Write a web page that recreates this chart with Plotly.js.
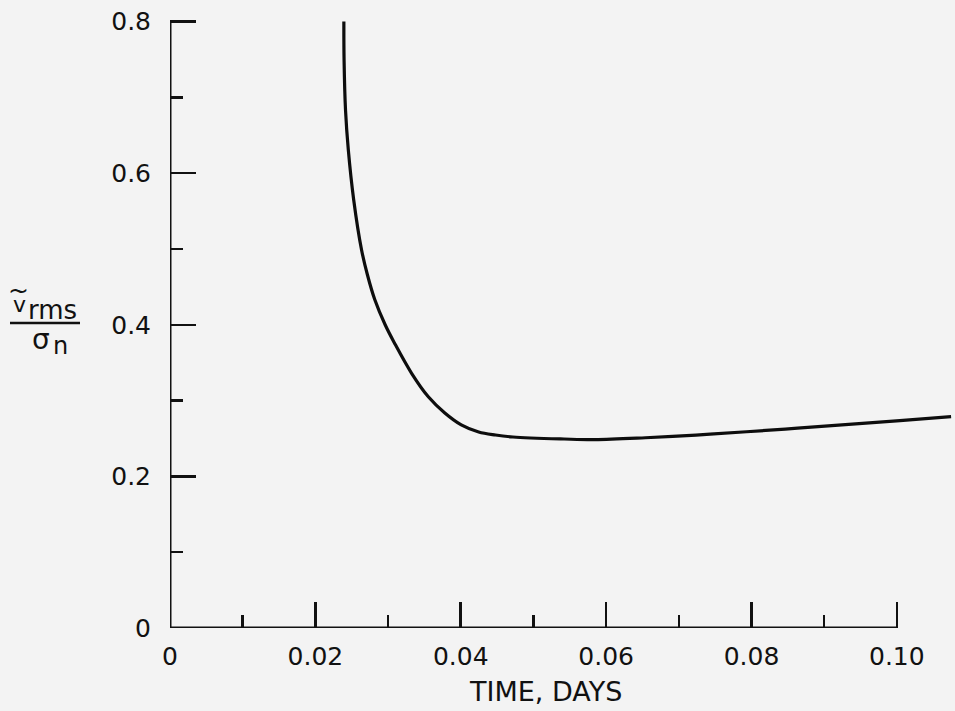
<!DOCTYPE html>
<html>
<head>
<meta charset="utf-8">
<script src="https://cdn.plot.ly/plotly-3.0.1.min.js"></script>
<style>
  html, body { margin: 0; padding: 0; background: #f3f3f3; }
  #chart { width: 955px; height: 711px; }
</style>
</head>
<body>
<div id="chart"></div>
<script>
// Normalised RMS velocity error versus elapsed time
const timeDays = [0.02392, 0.02395, 0.02415, 0.02453, 0.02527, 0.02635, 0.02716, 0.02818,
  0.02960, 0.03088, 0.03324, 0.03554, 0.03777, 0.04007, 0.04247, 0.04479, 0.04718,
  0.05423, 0.05845, 0.06542, 0.07236, 0.07931, 0.08634, 0.09338, 0.10042, 0.10746];
const vRmsRatio = [0.800, 0.749, 0.683, 0.631, 0.565, 0.499, 0.466, 0.433,
  0.400, 0.376, 0.336, 0.305, 0.284, 0.268, 0.2586, 0.2546, 0.2520,
  0.2493, 0.2485, 0.2510, 0.2545, 0.2589, 0.2636, 0.2685, 0.2736, 0.2788];

// Axis ticks
const xMajor = [0, 0.02, 0.04, 0.06, 0.08, 0.10];
const xMajorText = ["0", "0.02", "0.04", "0.06", "0.08", "0.10"];
const xMinor = [0.01, 0.03, 0.05, 0.07, 0.09];
const yMajor = [0, 0.2, 0.4, 0.6, 0.8];
const yMajorText = ["0", "0.2", "0.4", "0.6", "0.8"];
const yMinor = [0.1, 0.3, 0.5, 0.7];

const ink = "#111111";
const font = "DejaVu Sans, Arial, sans-serif";

// plot area in pixels, used to place the free-standing labels
const L = 170, T = 14, W = 785, H = 614;
const px = p => (p - L) / W;
const py = q => (T + H - q) / H;

const trace = {
  x: timeDays,
  y: vRmsRatio,
  mode: "lines",
  line: { color: "#0d0d0d", width: 3.2, shape: "spline", smoothing: 1 },
  hoverinfo: "x+y"
};

const tickStyle = { ticks: "inside", tickcolor: ink, tickwidth: 2.5 };

const layout = {
  width: 955, height: 711,
  margin: { l: L, r: 955 - L - W, t: T, b: 711 - T - H, pad: 0 },
  paper_bgcolor: "#f3f3f3",
  plot_bgcolor: "#f3f3f3",
  showlegend: false,
  font: { family: font, color: ink, size: 25 },
  xaxis: Object.assign({
    range: [0, 0.108],
    showgrid: false, zeroline: false, showline: false,
    tickmode: "array", tickvals: xMajor, ticktext: xMajorText,
    ticklen: 26, ticklabelstandoff: 11,
    tickfont: { family: font, size: 25, color: ink },
    minor: { tickmode: "array", tickvals: xMinor, ticks: "inside", ticklen: 13, tickwidth: 2.5, tickcolor: ink, showgrid: false }
  }, tickStyle),
  yaxis: Object.assign({
    range: [0, 0.81],
    showgrid: false, zeroline: false, showline: false,
    tickmode: "array", tickvals: yMajor, ticktext: yMajorText,
    ticklen: 26, ticklabelstandoff: 18,
    tickfont: { family: font, size: 25, color: ink },
    minor: { tickmode: "array", tickvals: yMinor, ticks: "inside", ticklen: 13, tickwidth: 2.5, tickcolor: ink, showgrid: false }
  }, tickStyle),
  shapes: [
    // axis lines stop at the last labelled tick
    { type: "line", xref: "x", yref: "y", x0: xMajor[0], x1: xMajor[xMajor.length - 1], y0: 0, y1: 0,
      line: { color: ink, width: 3 } },
    { type: "line", xref: "x", yref: "y", x0: 0, x1: 0, y0: yMajor[0], y1: yMajor[yMajor.length - 1],
      line: { color: ink, width: 3 } },
    // fraction bar of the y label
    { type: "line", xref: "paper", yref: "paper", x0: px(10), x1: px(80), y0: py(323), y1: py(323),
      line: { color: ink, width: 2.5 } }
  ],
  annotations: [
    { text: "TIME, DAYS", xref: "paper", yref: "paper", x: px(545), y: py(691),
      xanchor: "center", yanchor: "middle", showarrow: false,
      font: { family: font, size: 27, color: ink } },
    { text: "~", xref: "paper", yref: "paper", x: px(18.5), y: py(290),
      xanchor: "center", yanchor: "middle", showarrow: false,
      font: { family: font, size: 25, color: ink } },
    { text: "v", xref: "paper", yref: "paper", x: px(19), y: py(304),
      xanchor: "center", yanchor: "middle", showarrow: false,
      font: { family: font, size: 22, color: ink } },
    { text: "rms", xref: "paper", yref: "paper", x: px(52), y: py(310),
      xanchor: "center", yanchor: "middle", showarrow: false,
      font: { family: font, size: 26, color: ink } },
    { text: "\u03C3", xref: "paper", yref: "paper", x: px(41), y: py(339),
      xanchor: "center", yanchor: "middle", showarrow: false,
      font: { family: font, size: 28, color: ink } },
    { text: "n", xref: "paper", yref: "paper", x: px(60.5), y: py(346),
      xanchor: "center", yanchor: "middle", showarrow: false,
      font: { family: font, size: 24, color: ink } }
  ]
};

Plotly.newPlot("chart", [trace], layout, { displayModeBar: false, staticPlot: true });
</script>
</body>
</html>
